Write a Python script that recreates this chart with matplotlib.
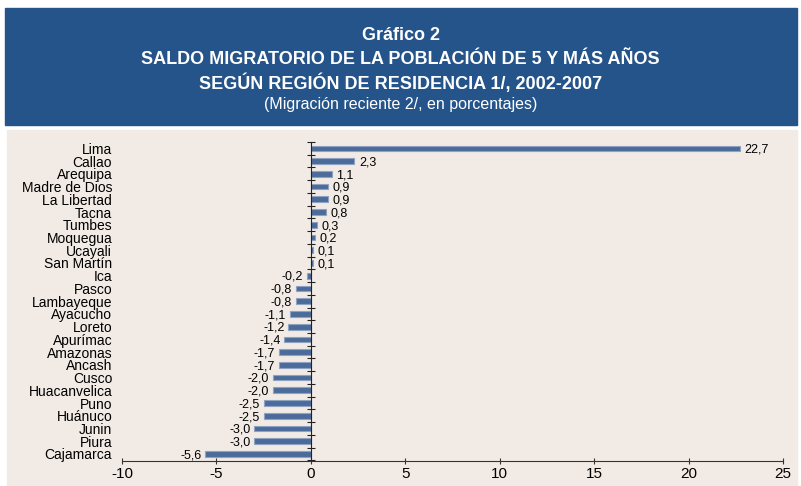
import numpy as np
import matplotlib.pyplot as plt
from matplotlib.patches import Rectangle

plt.rcParams['font.family'] = ['Liberation Sans', 'DejaVu Sans']

regiones = ["Lima", "Callao", "Arequipa", "Madre de Dios", "La Libertad", "Tacna",
            "Tumbes", "Moquegua", "Ucayali", "San Martín", "Ica", "Pasco",
            "Lambayeque", "Ayacucho", "Loreto", "Apurímac", "Amazonas", "Ancash",
            "Cusco", "Huacanvelica", "Puno", "Huánuco", "Junin", "Piura", "Cajamarca"]
saldo = [22.7, 2.3, 1.1, 0.9, 0.9, 0.8, 0.3, 0.2, 0.1, 0.1, -0.2, -0.8,
         -0.8, -1.1, -1.2, -1.4, -1.7, -1.7, -2.0, -2.0, -2.5, -2.5, -3.0, -3.0, -5.6]
x_ticks = [-10, -5, 0, 5, 10, 15, 20, 25]

W, H = 801, 486
fig = plt.figure(figsize=(W / 100, H / 100), dpi=100)
fig.patch.set_facecolor('white')

# title box and beige panel
fig.patches.append(Rectangle((5 / W, 1 - 125 / H), 792 / W, 117 / H,
                             transform=fig.transFigure, color='#25548a', zorder=-5))
fig.patches.append(Rectangle((7 / W, 0), 790 / W, 1 - 130 / H,
                             transform=fig.transFigure, color='#f2ebe5', zorder=-5))

fig.text(0.5, 1 - 35 / H, "Gráfico 2", color='white', fontsize=13,
         fontweight='bold', ha='center', va='center')
fig.text(0.5, 1 - 59 / H, "SALDO MIGRATORIO DE LA POBLACIÓN DE 5 Y MÁS AÑOS",
         color='white', fontsize=13, fontweight='bold', ha='center', va='center')
fig.text(0.5, 1 - 83 / H, "SEGÚN REGIÓN DE RESIDENCIA 1/, 2002-2007",
         color='white', fontsize=13, fontweight='bold', ha='center', va='center')
fig.text(0.5, 1 - 105 / H, "(Migración reciente 2/, en porcentajes)",
         color='white', fontsize=11.5, ha='center', va='center')

ax = fig.add_axes([122 / W, 1 - 461 / H, 661 / W, 319 / H])
ax.set_facecolor('none')

y = np.arange(len(regiones))
ax.barh(y, saldo, height=0.45, color='#4b6b9b', edgecolor='#8fa2c2', linewidth=0.8)

for yi, v in zip(y, saldo):
    txt = "{:.1f}".format(v).replace('.', ',')
    if v >= 0:
        ax.text(v + 0.25, yi + 0.1, txt, ha='left', va='center', fontsize=9)
    else:
        ax.text(v - 0.2, yi + 0.1, txt, ha='right', va='center', fontsize=9)

ax.set_xlim(-10, 25)
ax.set_ylim(len(regiones) - 0.45, -0.5)
ax.set_xticks(x_ticks)
ax.set_xticklabels([str(t) for t in x_ticks], fontsize=11)
ax.tick_params(axis='x', direction='inout', length=4, width=0.8, color='#333333', pad=2)

ax.set_yticks(y)
ax.set_yticklabels(regiones, fontsize=9)
ax.tick_params(axis='y', length=0, pad=143)
ax.set_yticks(np.arange(-0.5, len(regiones), 1), minor=True)
ax.tick_params(axis='y', which='minor', direction='inout', length=6, width=0.8,
               color='#222222')

ax.spines['left'].set_position(('data', 0))
ax.spines['left'].set_color('#222222')
ax.spines['bottom'].set_color('#333333')
ax.spines['top'].set_visible(False)
ax.spines['right'].set_visible(False)

fig.savefig('out.png', dpi=100)
